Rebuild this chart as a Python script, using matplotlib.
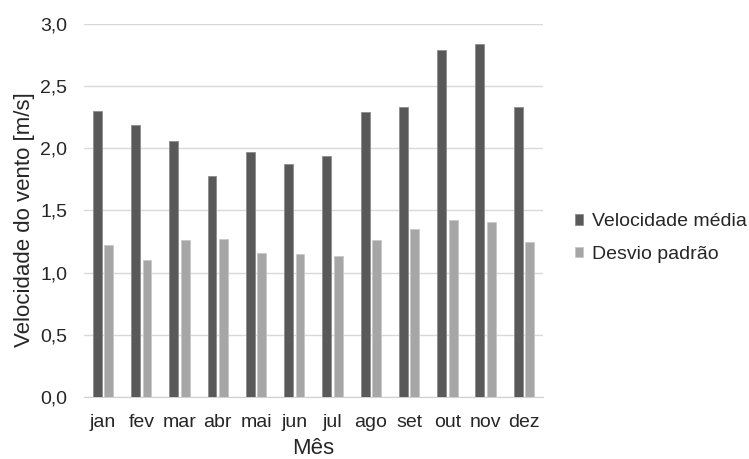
import numpy as np
import matplotlib.pyplot as plt
from matplotlib.ticker import FuncFormatter

# ── Dados ─────────────────────────────────────────────────────────────────────
meses = ["jan", "fev", "mar", "abr", "mai", "jun", "jul", "ago", "set", "out", "nov", "dez"]
vel_media = [2.30, 2.19, 2.06, 1.78, 1.97, 1.87, 1.94, 2.29, 2.33, 2.79, 2.84, 2.33]
desvio = [1.22, 1.10, 1.26, 1.27, 1.16, 1.15, 1.13, 1.26, 1.35, 1.42, 1.41, 1.25]

plt.rcParams["font.family"] = ["Liberation Sans", "DejaVu Sans"]
txt = "#262626"

fig = plt.figure(figsize=(7.49, 4.59), dpi=100)
ax = fig.add_axes([0.112, 0.135, 0.613, 0.813])

x = np.arange(len(meses))
w = 0.23
ax.bar(x - 0.15, vel_media, w, color="#595959", edgecolor="#8c8c8c", linewidth=0.6,
       label="Velocidade média", zorder=3)
ax.bar(x + 0.15, desvio, w, color="#a6a6a6", edgecolor="#c8c8c8", linewidth=0.6,
       label="Desvio padrão", zorder=3)

ax.set_xlim(-0.5, len(meses) - 0.5)
ax.set_ylim(0, 3.0)
ax.set_yticks(np.arange(0, 3.01, 0.5))
ax.yaxis.set_major_formatter(FuncFormatter(lambda v, _: f"{v:.1f}".replace(".", ",")))
ax.set_xticks(x)
ax.set_xticklabels(meses)

ax.grid(axis="y", color="#d9d9d9", linewidth=1, zorder=0)
for s in ["top", "right", "left"]:
    ax.spines[s].set_visible(False)
ax.spines["bottom"].set_color("#d0d0d0")
ax.tick_params(axis="both", length=0, labelsize=14, labelcolor=txt)
ax.tick_params(axis="y", pad=12)
ax.tick_params(axis="x", pad=12)

ax.set_xlabel("Mês", fontsize=16, color=txt, labelpad=5)
ax.set_ylabel("Velocidade do vento [m/s]", fontsize=16, color=txt, labelpad=4)
ax.yaxis.label.set_y(0.475)

leg = fig.legend(loc="center left", bbox_to_anchor=(0.768, 0.481), frameon=False,
                 fontsize=14, handlelength=0.42, handleheight=0.42, handletextpad=0.42,
                 labelspacing=0.8, borderpad=0, borderaxespad=0)
for t in leg.get_texts():
    t.set_color(txt)

fig.savefig("out.png", dpi=100)
